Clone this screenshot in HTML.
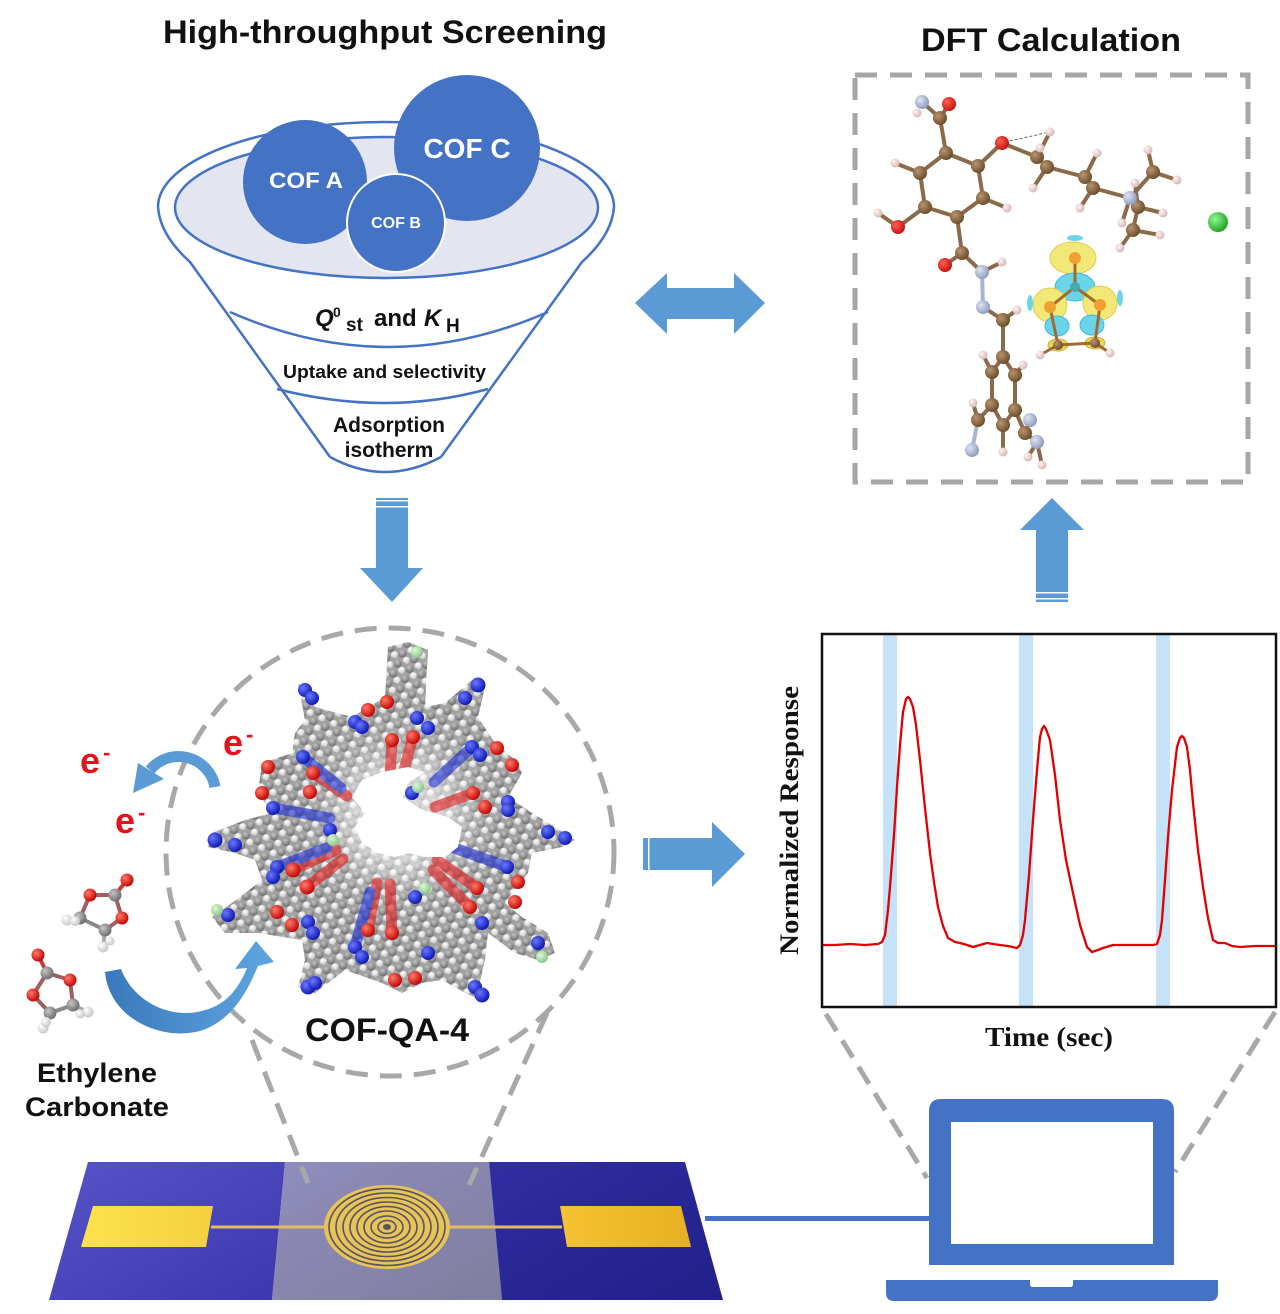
<!DOCTYPE html>
<html><head><meta charset="utf-8"><style>
html,body{margin:0;padding:0;background:#fff;}
svg{display:block;}
</style></head><body>
<svg width="1280" height="1314" viewBox="0 0 1280 1314" xmlns="http://www.w3.org/2000/svg" font-family="'Liberation Sans', Arial, sans-serif">
<defs>
<radialGradient id="gB" cx="0.35" cy="0.35" r="0.7"><stop offset="0" stop-color="#6a78ff"/><stop offset="1" stop-color="#0a14b0"/></radialGradient>
<radialGradient id="gR" cx="0.35" cy="0.35" r="0.7"><stop offset="0" stop-color="#ff7a6a"/><stop offset="1" stop-color="#c00000"/></radialGradient>
<radialGradient id="gC" cx="0.35" cy="0.35" r="0.7"><stop offset="0" stop-color="#c4c4c4"/><stop offset="1" stop-color="#6a6a6a"/></radialGradient>
<radialGradient id="gH" cx="0.35" cy="0.35" r="0.7"><stop offset="0" stop-color="#ffffff"/><stop offset="1" stop-color="#c4c4c4"/></radialGradient>
<radialGradient id="gBr" cx="0.35" cy="0.35" r="0.7"><stop offset="0" stop-color="#b89470"/><stop offset="1" stop-color="#6a4a2a"/></radialGradient>
<radialGradient id="gO2" cx="0.35" cy="0.35" r="0.7"><stop offset="0" stop-color="#ff6050"/><stop offset="1" stop-color="#c01010"/></radialGradient>
<radialGradient id="gN2" cx="0.35" cy="0.35" r="0.7"><stop offset="0" stop-color="#dfe4f2"/><stop offset="1" stop-color="#8a98bc"/></radialGradient>
<radialGradient id="gHp" cx="0.35" cy="0.35" r="0.7"><stop offset="0" stop-color="#fff4f4"/><stop offset="1" stop-color="#d4b4b4"/></radialGradient>
<radialGradient id="gG" cx="0.35" cy="0.35" r="0.7"><stop offset="0" stop-color="#90f890"/><stop offset="1" stop-color="#20a020"/></radialGradient>
<radialGradient id="gPg" cx="0.35" cy="0.35" r="0.7"><stop offset="0" stop-color="#dcf8d4"/><stop offset="1" stop-color="#88c488"/></radialGradient>
<radialGradient id="gInner" cx="400" cy="815" r="105" gradientUnits="userSpaceOnUse"><stop offset="0.4" stop-color="#ffffff" stop-opacity="0.55"/><stop offset="0.75" stop-color="#ffffff" stop-opacity="0.12"/><stop offset="1" stop-color="#ffffff" stop-opacity="0"/></radialGradient>
<pattern id="cp" width="13" height="11" patternUnits="userSpaceOnUse" patternTransform="rotate(25 388 825)">
<rect width="13" height="11" fill="#a2a2a2"/>
<circle cx="3.5" cy="3.5" r="4.2" fill="url(#gC)"/>
<circle cx="10" cy="8" r="3.6" fill="url(#gH)"/>
</pattern>
<linearGradient id="gArrow" x1="0" y1="0" x2="1" y2="0"><stop offset="0" stop-color="#3b78bd"/><stop offset="1" stop-color="#5ea6e0"/></linearGradient>
<linearGradient id="gSubL" x1="0" y1="0" x2="1" y2="1"><stop offset="0" stop-color="#5654c8"/><stop offset="1" stop-color="#3a38ac"/></linearGradient>
<linearGradient id="gSubM" x1="0" y1="0" x2="1" y2="1"><stop offset="0" stop-color="#8f8dbc"/><stop offset="1" stop-color="#807e9e"/></linearGradient>
<linearGradient id="gSubR" x1="0" y1="0" x2="1" y2="1"><stop offset="0" stop-color="#302ea2"/><stop offset="1" stop-color="#211f88"/></linearGradient>
<linearGradient id="gPadL" x1="0" y1="0" x2="1" y2="0"><stop offset="0" stop-color="#fde24c"/><stop offset="1" stop-color="#f4d040"/></linearGradient>
<linearGradient id="gPadR" x1="0" y1="0" x2="1" y2="0"><stop offset="0" stop-color="#f4c234"/><stop offset="1" stop-color="#e8b022"/></linearGradient>
<clipPath id="cofClip"><polygon points="298,683 315,707 352,717 385,697 388,647 408,642 428,650 425,707 445,703 472,680 485,687 478,717 495,743 515,760 522,773 508,797 532,813 555,827 575,840 562,847 532,853 528,873 505,903 522,917 548,933 555,953 538,960 515,953 488,933 485,960 478,990 482,1000 465,993 442,980 422,983 402,993 382,983 345,970 315,993 298,987 305,960 302,940 258,933 225,933 212,917 232,903 262,880 255,860 235,853 208,847 212,833 245,820 272,813 258,793 262,763 292,753 295,733 305,720"/></clipPath>
</defs>

<rect width="1280" height="1314" fill="#ffffff"/>

<!-- Titles -->
<text x="163" y="43" font-size="32" font-weight="bold" textLength="444" lengthAdjust="spacingAndGlyphs" fill="#111">High-throughput Screening</text>
<text x="921" y="51" font-size="32" font-weight="bold" textLength="260" lengthAdjust="spacingAndGlyphs" fill="#111">DFT Calculation</text>

<!-- Funnel -->
<g fill="none" stroke="#4472c4" stroke-width="2.5">
<path d="M158,207 A228,85 0 0 1 614,207"/>
<path d="M158,207 Q160,235 190,262 L330,457"/>
<path d="M614,207 Q612,235 582,262 L441,457"/>
<path d="M230,312 Q388,382 548,312"/>
<path d="M277,389 Q386,417 488,389"/>
<path d="M330,457 Q385,487 441,457"/>
</g>
<ellipse cx="386.5" cy="207.5" rx="211.5" ry="70.5" fill="#e3e5f1" stroke="#4472c4" stroke-width="2.5"/>
<circle cx="305" cy="182" r="62" fill="#4472c4"/>
<circle cx="467" cy="148" r="73" fill="#4472c4"/>
<circle cx="396" cy="223" r="49" fill="#4472c4" stroke="#ffffff" stroke-width="2"/>
<text x="306" y="188" font-size="22" font-weight="bold" fill="#fff" text-anchor="middle" textLength="74" lengthAdjust="spacingAndGlyphs">COF A</text>
<text x="396" y="228" font-size="16" font-weight="bold" fill="#fff" text-anchor="middle">COF B</text>
<text x="467" y="158" font-size="28" font-weight="bold" fill="#fff" text-anchor="middle">COF C</text>
<text font-weight="bold" fill="#111">
<tspan x="315" y="326" font-size="24" font-style="italic">Q</tspan><tspan x="333" y="317" font-size="14">0</tspan><tspan x="346" y="331" font-size="19">st</tspan><tspan x="374" y="326" font-size="24">and</tspan><tspan x="424" y="326" font-size="24" font-style="italic">K</tspan><tspan x="446" y="332" font-size="19">H</tspan>
</text>
<text x="283" y="378" font-size="18" font-weight="bold" fill="#111" textLength="203" lengthAdjust="spacingAndGlyphs">Uptake and selectivity</text>
<text x="389" y="432" font-size="21" font-weight="bold" fill="#111" text-anchor="middle">Adsorption</text>
<text x="389" y="457" font-size="21" font-weight="bold" fill="#111" text-anchor="middle">isotherm</text>

<!-- Arrows -->
<polygon points="635,303 667,273 667,288 734,288 734,273 765,303 734,334 734,319 667,319 667,334" fill="#5b9bd5"/>
<polygon points="376,498 408,498 408,568 423,568 392,602 360,568 376,568" fill="#5b9bd5"/>
<rect x="376" y="500" width="32" height="1.5" fill="#fff"/><rect x="376" y="506" width="32" height="1.5" fill="#fff"/>
<polygon points="1036,602 1068,602 1068,530 1084,530 1052,498 1020,530 1036,530" fill="#5b9bd5"/>
<rect x="1036" y="592" width="32" height="1.5" fill="#fff"/><rect x="1036" y="598" width="32" height="1.5" fill="#fff"/>
<polygon points="643,838 712,838 712,822 745,854 712,887 712,870 643,870" fill="#5b9bd5"/>
<rect x="648" y="838" width="1.5" height="32" fill="#fff"/>

<!-- DFT box -->
<rect x="855" y="75" width="393" height="407" fill="none" stroke="#a6a6a6" stroke-width="5" stroke-dasharray="22,13"/>

<!-- DFT molecule bonds -->
<g stroke="#8a6a4a" stroke-width="4" stroke-linecap="round">
<line x1="940" y1="118" x2="922" y2="102"/><line x1="940" y1="118" x2="949" y2="104"/><line x1="940" y1="118" x2="946" y2="153"/>
<line x1="946" y1="153" x2="978" y2="166"/><line x1="978" y1="166" x2="983" y2="198"/><line x1="983" y1="198" x2="957" y2="217"/>
<line x1="957" y1="217" x2="925" y2="207"/><line x1="925" y1="207" x2="920" y2="173"/><line x1="920" y1="173" x2="946" y2="153"/>
<line x1="920" y1="173" x2="895" y2="163"/><line x1="983" y1="198" x2="1007" y2="208"/><line x1="978" y1="166" x2="1002" y2="143"/>
<line x1="925" y1="207" x2="898" y2="227"/><line x1="898" y1="227" x2="878" y2="213"/>
<line x1="957" y1="217" x2="962" y2="253"/><line x1="962" y1="253" x2="945" y2="265"/><line x1="962" y1="253" x2="982" y2="272"/>
<line x1="982" y1="272" x2="1002" y2="262"/><line x1="982" y1="272" x2="983" y2="307" stroke="#a8b4d4"/><line x1="983" y1="307" x2="1003" y2="320"/>
<line x1="1003" y1="320" x2="1017" y2="310"/><line x1="1003" y1="320" x2="1003" y2="357"/>
<line x1="1003" y1="357" x2="1015" y2="375"/><line x1="1015" y1="375" x2="1015" y2="410"/><line x1="1015" y1="410" x2="1003" y2="425"/>
<line x1="1003" y1="425" x2="992" y2="405"/><line x1="992" y1="405" x2="992" y2="372"/><line x1="992" y1="372" x2="1003" y2="357"/>
<line x1="992" y1="372" x2="983" y2="355"/><line x1="1015" y1="375" x2="1023" y2="365"/><line x1="1003" y1="425" x2="1003" y2="452"/>
<line x1="992" y1="405" x2="978" y2="420"/><line x1="978" y1="420" x2="973" y2="403"/><line x1="978" y1="420" x2="972" y2="450" stroke="#a8b4d4"/>
<line x1="1015" y1="410" x2="1025" y2="433"/><line x1="1025" y1="433" x2="1030" y2="420"/><line x1="1025" y1="433" x2="1037" y2="442"/>
<line x1="1037" y1="442" x2="1028" y2="457"/><line x1="1037" y1="442" x2="1042" y2="465"/>
<line x1="1002" y1="143" x2="1037" y2="157"/><line x1="1037" y1="157" x2="1047" y2="167"/><line x1="1047" y1="167" x2="1085" y2="177"/>
<line x1="1085" y1="177" x2="1093" y2="188"/><line x1="1093" y1="188" x2="1130" y2="198"/><line x1="1130" y1="198" x2="1153" y2="172"/>
<line x1="1130" y1="198" x2="1138" y2="207"/><line x1="1138" y1="207" x2="1133" y2="230"/>
<line x1="1037" y1="157" x2="1050" y2="132"/><line x1="1037" y1="157" x2="1040" y2="148"/><line x1="1047" y1="167" x2="1033" y2="188"/>
<line x1="1085" y1="177" x2="1097" y2="153"/><line x1="1093" y1="188" x2="1080" y2="208"/><line x1="1153" y1="172" x2="1148" y2="150"/>
<line x1="1153" y1="172" x2="1177" y2="180"/><line x1="1138" y1="207" x2="1163" y2="213"/><line x1="1133" y1="230" x2="1160" y2="235"/>
<line x1="1133" y1="230" x2="1120" y2="248"/><line x1="1130" y1="198" x2="1122" y2="223"/><line x1="1138" y1="207" x2="1135" y2="183"/>
</g>
<line x1="1005" y1="142" x2="1050" y2="132" stroke="#666" stroke-width="1" stroke-dasharray="3,2"/>
<!-- isosurface -->
<g stroke-width="1">
<ellipse cx="1073" cy="258" rx="23" ry="16" fill="#f2e878" stroke="#e0cc50"/>
<ellipse cx="1075" cy="287" rx="20" ry="14" fill="#6ad4ea" stroke="#40b8d8"/>
<circle cx="1050" cy="305" r="17" fill="#f2e878" stroke="#e0cc50"/>
<circle cx="1100" cy="303" r="17" fill="#f2e878" stroke="#e0cc50"/>
<ellipse cx="1057" cy="326" rx="12" ry="10" fill="#6ad4ea" stroke="#40b8d8"/>
<ellipse cx="1092" cy="325" rx="12" ry="10" fill="#6ad4ea" stroke="#40b8d8"/>
<ellipse cx="1058" cy="345" rx="10" ry="6" fill="#e8d850" stroke="#c8b040"/>
<ellipse cx="1095" cy="343" rx="10" ry="6" fill="#e8d850" stroke="#c8b040"/>
<ellipse cx="1075" cy="238" rx="8" ry="3" fill="#6ad4ea"/>
<ellipse cx="1030" cy="303" rx="3" ry="8" fill="#6ad4ea"/>
<ellipse cx="1120" cy="298" rx="3" ry="8" fill="#6ad4ea"/>
</g>
<g stroke="#a06a30" stroke-width="3"><line x1="1075" y1="258" x2="1075" y2="287"/><line x1="1075" y1="287" x2="1050" y2="307"/><line x1="1075" y1="287" x2="1100" y2="305"/><line x1="1050" y1="307" x2="1058" y2="345"/><line x1="1100" y1="305" x2="1095" y2="343"/><line x1="1058" y1="345" x2="1095" y2="343"/><line x1="1058" y1="345" x2="1040" y2="355"/><line x1="1095" y1="343" x2="1110" y2="353"/></g>
<circle cx="1075" cy="258" r="6" fill="#f0a030"/><circle cx="1050" cy="307" r="6" fill="#f0a030"/><circle cx="1100" cy="305" r="6" fill="#f0a030"/><circle cx="1075" cy="287" r="5" fill="#4aa8a8"/>
<!-- DFT atoms -->
<g fill="url(#gBr)">
<circle cx="940" cy="118" r="7"/><circle cx="946" cy="153" r="7"/><circle cx="978" cy="166" r="7"/><circle cx="983" cy="198" r="7"/><circle cx="957" cy="217" r="7"/><circle cx="925" cy="207" r="7"/><circle cx="920" cy="173" r="7"/>
<circle cx="962" cy="253" r="7"/><circle cx="1003" cy="320" r="7"/><circle cx="1003" cy="357" r="7"/><circle cx="1015" cy="375" r="7"/><circle cx="1015" cy="410" r="7"/><circle cx="1003" cy="425" r="7"/><circle cx="992" cy="405" r="7"/><circle cx="992" cy="372" r="7"/>
<circle cx="978" cy="420" r="7"/><circle cx="1025" cy="433" r="7"/>
<circle cx="1037" cy="157" r="7"/><circle cx="1047" cy="167" r="7"/><circle cx="1085" cy="177" r="7"/><circle cx="1093" cy="188" r="7"/><circle cx="1153" cy="172" r="7"/><circle cx="1138" cy="207" r="7"/><circle cx="1133" cy="230" r="7"/>
<circle cx="1058" cy="345" r="5"/><circle cx="1095" cy="343" r="5"/>
</g>
<g fill="url(#gO2)"><circle cx="949" cy="104" r="7"/><circle cx="1002" cy="143" r="7"/><circle cx="898" cy="227" r="7"/><circle cx="945" cy="265" r="7"/></g>
<g fill="url(#gN2)"><circle cx="922" cy="102" r="7"/><circle cx="982" cy="272" r="7"/><circle cx="983" cy="307" r="7"/><circle cx="972" cy="450" r="7"/><circle cx="1030" cy="420" r="7"/><circle cx="1037" cy="442" r="7"/><circle cx="1130" cy="198" r="7"/></g>
<g fill="url(#gHp)">
<circle cx="917" cy="113" r="4.5"/><circle cx="895" cy="163" r="4.5"/><circle cx="1007" cy="208" r="4.5"/><circle cx="878" cy="213" r="4.5"/><circle cx="1002" cy="262" r="4.5"/><circle cx="1017" cy="310" r="4.5"/>
<circle cx="983" cy="355" r="4.5"/><circle cx="1023" cy="365" r="4.5"/><circle cx="1003" cy="452" r="4.5"/><circle cx="973" cy="403" r="4.5"/><circle cx="1028" cy="457" r="4.5"/><circle cx="1042" cy="465" r="4.5"/>
<circle cx="1050" cy="132" r="4.5"/><circle cx="1040" cy="148" r="4.5"/><circle cx="1033" cy="188" r="4.5"/><circle cx="1097" cy="153" r="4.5"/><circle cx="1080" cy="208" r="4.5"/><circle cx="1148" cy="150" r="4.5"/>
<circle cx="1177" cy="180" r="4.5"/><circle cx="1163" cy="213" r="4.5"/><circle cx="1160" cy="235" r="4.5"/><circle cx="1120" cy="248" r="4.5"/><circle cx="1122" cy="223" r="4.5"/><circle cx="1135" cy="183" r="4.5"/>
<circle cx="1040" cy="355" r="4.5"/><circle cx="1110" cy="353" r="4.5"/>
</g>
<circle cx="1218" cy="222" r="10" fill="url(#gG)"/>

<!-- Plot -->
<rect x="883" y="634" width="14" height="373" fill="#c6e2f8"/>
<rect x="1019" y="634" width="14" height="373" fill="#c6e2f8"/>
<rect x="1156" y="634" width="14" height="373" fill="#c6e2f8"/>
<polyline fill="none" stroke="#e00000" stroke-width="2.3" stroke-linejoin="round" points="822,945 835,945 850,944 865,945 878,944 882,942 885,935 888,910 890,887 894,835 897,787 900,745 903,712 906,699 908,697 910,699 913,707 916,725 920,760 925,808 930,853 934,882 938,907 943,926 948,938 955,942 960,943 967,945 973,947 980,945 987,943 993,944 1000,945 1008,946 1017,948 1020,945 1023,935 1025,920 1029,875 1033,820 1037,770 1040,737 1042,729 1044,726 1046,729 1050,740 1055,775 1060,820 1066,860 1073,893 1080,925 1087,947 1092,952 1098,950 1103,948 1113,945 1125,945 1140,945 1153,945 1157,944 1160,935 1162,920 1165,880 1168,837 1172,790 1177,747 1180,738 1182,736 1184,738 1187,747 1190,770 1193,803 1198,850 1203,887 1208,918 1213,940 1218,943 1225,943 1232,946 1240,947 1255,946 1275,946"/>
<rect x="822" y="634" width="454" height="373" fill="none" stroke="#111" stroke-width="2.5"/>
<text transform="translate(798,955) rotate(-90)" font-family="'Liberation Serif', 'Times New Roman', serif" font-size="26" font-weight="bold" fill="#111" textLength="269" lengthAdjust="spacingAndGlyphs">Normalized Response</text>
<text x="985" y="1046" font-family="'Liberation Serif', 'Times New Roman', serif" font-size="27" font-weight="bold" fill="#111" textLength="128" lengthAdjust="spacingAndGlyphs">Time (sec)</text>

<!-- dashed connectors plot->laptop -->
<g stroke="#a8a8a8" stroke-width="5" stroke-dasharray="20,11" fill="none">
<line x1="826" y1="1014" x2="927" y2="1178"/>
<line x1="1275" y1="1012" x2="1175" y2="1172"/>
</g>

<!-- Laptop -->
<path d="M929,1265 L929,1111 Q929,1099 941,1099 L1162,1099 Q1174,1099 1174,1111 L1174,1265 Z" fill="#4472c4"/>
<rect x="951" y="1122" width="202" height="122" fill="#ffffff"/>
<path d="M886,1280 L1218,1280 L1218,1293 Q1218,1301 1210,1301 L894,1301 Q886,1301 886,1293 Z" fill="#4472c4"/>
<path d="M1030,1280 L1073,1280 L1073,1284 Q1073,1287 1070,1287 L1033,1287 Q1030,1287 1030,1284 Z" fill="#ffffff"/>
<rect x="705" y="1216" width="224" height="5" fill="#4472c4"/>

<!-- Substrate -->
<polygon points="88,1162 285,1162 272,1300 49,1300" fill="url(#gSubL)"/>
<polygon points="285,1162 489,1162 502,1300 272,1300" fill="url(#gSubM)"/>
<polygon points="489,1162 685,1162 723,1300 502,1300" fill="url(#gSubR)"/>
<polygon points="93,1206 213,1206 206,1247 81,1247" fill="url(#gPadL)"/>
<polygon points="560,1206 681,1206 691,1247 567,1247" fill="url(#gPadR)"/>
<line x1="211" y1="1227" x2="326" y2="1227" stroke="#e4bc60" stroke-width="3"/>
<line x1="448" y1="1227" x2="562" y2="1227" stroke="#e4bc60" stroke-width="3"/>
<ellipse cx="387" cy="1227" rx="63" ry="42" fill="#e6c45a"/>
<g fill="none" stroke="#5a5260" stroke-width="1.6">
<ellipse cx="387" cy="1227" rx="58" ry="38.5"/><ellipse cx="387" cy="1227" rx="51" ry="34"/><ellipse cx="387" cy="1227" rx="44" ry="29.5"/>
<ellipse cx="387" cy="1227" rx="37" ry="25"/><ellipse cx="387" cy="1227" rx="30" ry="20.5"/><ellipse cx="387" cy="1227" rx="23" ry="16"/>
<ellipse cx="387" cy="1227" rx="16" ry="11"/><ellipse cx="387" cy="1227" rx="9" ry="6.5"/>
</g>
<ellipse cx="387" cy="1227" rx="4" ry="3" fill="#5a5260"/>

<!-- Dashed circle + connectors -->
<g stroke="#a8a8a8" stroke-width="5" stroke-dasharray="22,12" fill="none">
<circle cx="390" cy="852" r="224"/>
<line x1="252" y1="1040" x2="308" y2="1183"/>
<line x1="547" y1="1013" x2="469" y2="1185"/>
</g>

<!-- COF structure -->
<g clip-path="url(#cofClip)">
<rect x="200" y="630" width="380" height="380" fill="url(#cp)"/>
<circle cx="400" cy="815" r="105" fill="url(#gInner)"/>
<g stroke-width="11" stroke-linecap="round" opacity="0.6">
<line x1="307" y1="887" x2="343" y2="859" stroke="#e01818"/>
<line x1="293" y1="870" x2="336" y2="850" stroke="#e01818"/>
<line x1="313" y1="773" x2="347" y2="796" stroke="#e01818"/>
<line x1="470" y1="907" x2="433" y2="870" stroke="#e01818"/>
<line x1="477" y1="888" x2="437" y2="860" stroke="#e01818"/>
<line x1="368" y1="930" x2="377" y2="883" stroke="#e01818"/>
<line x1="392" y1="933" x2="390" y2="884" stroke="#e01818"/>
<line x1="392" y1="740" x2="390" y2="778" stroke="#e01818"/>
<line x1="413" y1="737" x2="402" y2="777" stroke="#e01818"/>
<line x1="473" y1="793" x2="435" y2="807" stroke="#e01818"/>
<line x1="355" y1="947" x2="370" y2="892" stroke="#1a28d0"/>
<line x1="277" y1="867" x2="327" y2="848" stroke="#1a28d0"/>
<line x1="472" y1="747" x2="434" y2="782" stroke="#1a28d0"/>
<line x1="508" y1="867" x2="454" y2="848" stroke="#1a28d0"/>
<line x1="303" y1="757" x2="341" y2="788" stroke="#1a28d0"/>
<line x1="273" y1="808" x2="330" y2="818" stroke="#1a28d0"/>
</g>
</g>
<polygon points="352,797 362,780 382,772 408,767 425,772 408,783 403,797 422,810 448,817 462,827 458,847 445,857 425,857 408,853 395,857 378,853 362,843 355,827 365,813" fill="#ffffff"/>
<g fill="url(#gB)">
<circle cx="305" cy="690" r="7"/><circle cx="312" cy="698" r="7"/><circle cx="478" cy="685" r="7.5"/><circle cx="465" cy="698" r="7"/>
<circle cx="355" cy="722" r="7"/><circle cx="362" cy="727" r="7"/><circle cx="417" cy="718" r="7"/><circle cx="428" cy="728" r="7"/>
<circle cx="472" cy="747" r="7"/><circle cx="480" cy="755" r="7"/><circle cx="303" cy="757" r="7"/><circle cx="273" cy="808" r="7"/>
<circle cx="215" cy="840" r="7.5"/><circle cx="235" cy="845" r="7"/><circle cx="412" cy="793" r="7"/><circle cx="330" cy="830" r="7"/>
<circle cx="508" cy="802" r="7"/><circle cx="508" cy="810" r="7"/><circle cx="548" cy="832" r="7"/><circle cx="565" cy="838" r="7"/>
<circle cx="277" cy="867" r="7"/><circle cx="273" cy="877" r="7"/><circle cx="228" cy="915" r="7"/><circle cx="415" cy="897" r="7"/>
<circle cx="507" cy="867" r="7"/><circle cx="308" cy="922" r="7"/><circle cx="313" cy="933" r="7"/><circle cx="482" cy="923" r="7"/>
<circle cx="355" cy="947" r="7"/><circle cx="362" cy="957" r="7"/><circle cx="428" cy="953" r="7"/><circle cx="538" cy="943" r="7"/>
<circle cx="308" cy="987" r="7.5"/><circle cx="315" cy="983" r="7"/><circle cx="475" cy="987" r="7"/><circle cx="482" cy="995" r="7.5"/>
</g>
<g fill="url(#gR)">
<circle cx="368" cy="710" r="7"/><circle cx="387" cy="702" r="7"/><circle cx="392" cy="740" r="7"/><circle cx="413" cy="737" r="7"/>
<circle cx="497" cy="748" r="7"/><circle cx="512" cy="765" r="7"/><circle cx="268" cy="767" r="7"/><circle cx="262" cy="793" r="7"/>
<circle cx="313" cy="773" r="7"/><circle cx="310" cy="792" r="7"/><circle cx="473" cy="793" r="7"/><circle cx="485" cy="807" r="7"/>
<circle cx="293" cy="870" r="7.5"/><circle cx="307" cy="887" r="7.5"/><circle cx="477" cy="888" r="7"/><circle cx="470" cy="907" r="7"/>
<circle cx="518" cy="882" r="7"/><circle cx="515" cy="902" r="7"/><circle cx="277" cy="912" r="7"/><circle cx="292" cy="925" r="7"/>
<circle cx="368" cy="930" r="7"/><circle cx="392" cy="933" r="7"/><circle cx="395" cy="980" r="7"/><circle cx="415" cy="978" r="7"/>
</g>
<g fill="url(#gPg)">
<circle cx="417" cy="652" r="6"/><circle cx="418" cy="787" r="6"/><circle cx="333" cy="840" r="6"/><circle cx="425" cy="888" r="6"/><circle cx="217" cy="910" r="6"/><circle cx="542" cy="957" r="6"/>
</g>

<text x="387" y="1041" font-size="32" font-weight="bold" fill="#111" text-anchor="middle" textLength="164" lengthAdjust="spacingAndGlyphs">COF-QA-4</text>

<!-- e- labels -->
<g fill="#e8101a" font-weight="bold">
<text x="80" y="773" font-size="36">e</text><text x="103" y="760" font-size="22">-</text>
<text x="115" y="833" font-size="36">e</text><text x="138" y="820" font-size="22">-</text>
<text x="223" y="755" font-size="36">e</text><text x="246" y="742" font-size="22">-</text>
</g>

<!-- small curved arrow -->
<path d="M215,787 A37,37 0 0 0 150,770" fill="none" stroke="#5b9bd5" stroke-width="11"/>
<polygon points="133,793 138,763 164,779" fill="#5b9bd5"/>

<!-- big curved arrow -->
<path d="M105,972 C110,1025 175,1045 210,1027 C232,1016 246,995 258,966 L274,962 L256,941 L235,969 L247,968 C238,990 225,1005 205,1010 C175,1020 135,1005 121,969 Z" fill="url(#gArrow)"/>

<!-- Ethylene carbonate molecules -->
<g stroke-width="4" stroke-linecap="round">
<line x1="127" y1="880" x2="115" y2="895" stroke="#c04040"/><line x1="115" y1="895" x2="90" y2="895" stroke="#a06060"/><line x1="115" y1="895" x2="122" y2="918" stroke="#a06060"/>
<line x1="90" y1="895" x2="80" y2="918" stroke="#a06060"/><line x1="122" y1="918" x2="105" y2="930" stroke="#a06060"/><line x1="80" y1="918" x2="105" y2="930" stroke="#888"/>
<line x1="80" y1="918" x2="67" y2="920" stroke="#aaa"/><line x1="105" y1="930" x2="103" y2="947" stroke="#aaa"/>
<line x1="38" y1="955" x2="47" y2="973" stroke="#c04040"/><line x1="47" y1="973" x2="70" y2="980" stroke="#a06060"/><line x1="47" y1="973" x2="33" y2="995" stroke="#a06060"/>
<line x1="70" y1="980" x2="73" y2="1005" stroke="#a06060"/><line x1="33" y1="995" x2="50" y2="1013" stroke="#a06060"/><line x1="73" y1="1005" x2="50" y2="1013" stroke="#888"/>
<line x1="73" y1="1005" x2="88" y2="1012" stroke="#aaa"/><line x1="50" y1="1013" x2="43" y2="1028" stroke="#aaa"/>
</g>
<g fill="url(#gC)"><circle cx="115" cy="895" r="6.5"/><circle cx="80" cy="918" r="6.5"/><circle cx="105" cy="930" r="6.5"/><circle cx="47" cy="973" r="6.5"/><circle cx="73" cy="1005" r="6.5"/><circle cx="50" cy="1013" r="6.5"/></g>
<g fill="url(#gR)"><circle cx="127" cy="880" r="6.5"/><circle cx="90" cy="895" r="6.5"/><circle cx="122" cy="918" r="6.5"/><circle cx="38" cy="955" r="6.5"/><circle cx="70" cy="980" r="6.5"/><circle cx="33" cy="995" r="6.5"/></g>
<g fill="url(#gH)"><circle cx="67" cy="920" r="5.5"/><circle cx="75" cy="921" r="5"/><circle cx="103" cy="947" r="5.5"/><circle cx="110" cy="941" r="4.5"/><circle cx="88" cy="1012" r="5.5"/><circle cx="43" cy="1028" r="5.5"/><circle cx="46" cy="1022" r="5"/><circle cx="80" cy="1014" r="4.5"/></g>

<text x="37" y="1082" font-size="27" font-weight="bold" fill="#111" textLength="120" lengthAdjust="spacingAndGlyphs">Ethylene</text>
<text x="25" y="1116" font-size="27" font-weight="bold" fill="#111" textLength="144" lengthAdjust="spacingAndGlyphs">Carbonate</text>
</svg>
</body></html>
